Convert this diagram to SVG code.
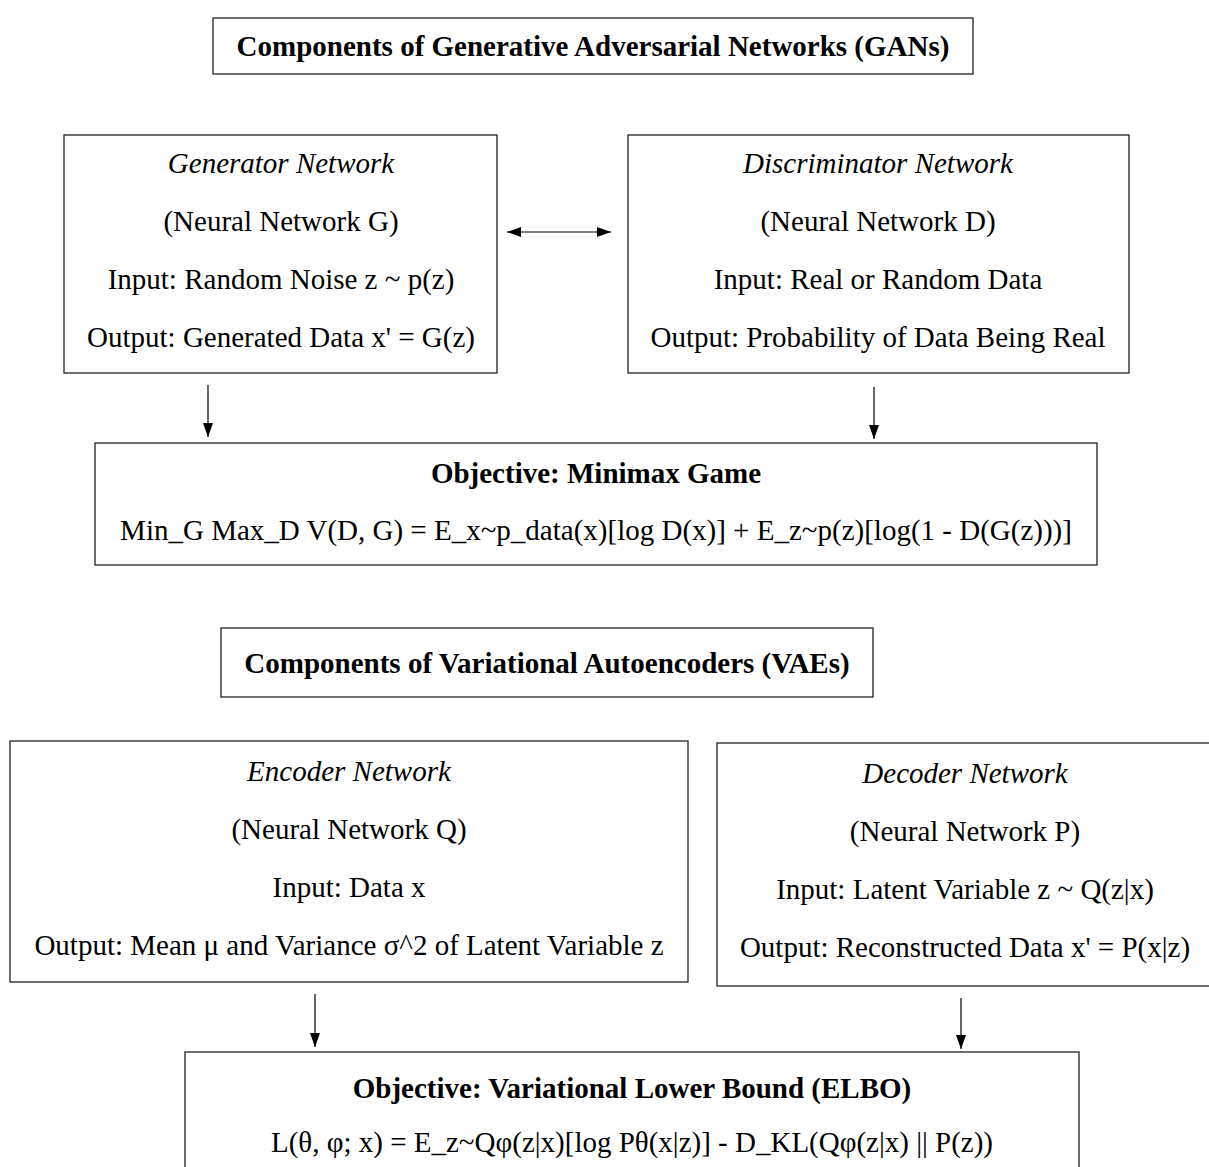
<svg xmlns="http://www.w3.org/2000/svg" width="1209" height="1167" viewBox="0 0 1209 1167">
<defs>
<style>
.box{fill:#fff;stroke:#222;stroke-width:1.3}
text{font-family:"Liberation Serif","Times New Roman",serif;font-size:29px;fill:#000;text-anchor:middle}
.b{font-weight:bold}
.i{font-style:italic}
.c{stroke:#000;stroke-width:1.2;fill:none}
</style>
<marker id="ahd" viewBox="0 0 14 10" refX="14" refY="5" markerWidth="14" markerHeight="11" markerUnits="userSpaceOnUse" orient="auto-start-reverse">
<path d="M0,0 L14,5 L0,10 z" fill="#000"/>
</marker>
</defs>
<rect width="1209" height="1167" fill="#fff"/>
<g id="gan-title">
<rect class="box" x="213" y="18" width="760" height="56"/>
<text class="b" x="593" y="56">Components of Generative Adversarial Networks (GANs)</text>
</g>
<g id="generator">
<rect class="box" x="64" y="135" width="433" height="238"/>
<text class="i" x="281" y="173">Generator Network</text>
<text x="281" y="231">(Neural Network G)</text>
<text x="281" y="289">Input: Random Noise z ~ p(z)</text>
<text x="281" y="347">Output: Generated Data x' = G(z)</text>
</g>
<g id="discriminator">
<rect class="box" x="628" y="135" width="501" height="238"/>
<text class="i" x="878" y="173">Discriminator Network</text>
<text x="878" y="231">(Neural Network D)</text>
<text x="878" y="289">Input: Real or Random Data</text>
<text x="878" y="347">Output: Probability of Data Being Real</text>
</g>
<g id="gan-objective">
<rect class="box" x="95" y="443" width="1002" height="122"/>
<text class="b" x="596" y="483">Objective: Minimax Game</text>
<text x="596" y="540">Min_G Max_D V(D, G) = E_x~p_data(x)[log D(x)] + E_z~p(z)[log(1 - D(G(z)))]</text>
</g>
<g id="vae-title">
<rect class="box" x="221" y="628" width="652" height="69"/>
<text class="b" x="547" y="673">Components of Variational Autoencoders (VAEs)</text>
</g>
<g id="encoder">
<rect class="box" x="10" y="741" width="678" height="241"/>
<text class="i" x="349" y="781">Encoder Network</text>
<text x="349" y="839">(Neural Network Q)</text>
<text x="349" y="897">Input: Data x</text>
<text x="349" y="955">Output: Mean μ and Variance σ^2 of Latent Variable z</text>
</g>
<g id="decoder">
<rect class="box" x="717" y="743" width="500" height="243"/>
<text class="i" x="965" y="783">Decoder Network</text>
<text x="965" y="841">(Neural Network P)</text>
<text x="965" y="899">Input: Latent Variable z ~ Q(z|x)</text>
<text x="965" y="957">Output: Reconstructed Data x' = P(x|z)</text>
</g>
<g id="vae-objective">
<rect class="box" x="185" y="1052" width="894" height="125"/>
<text class="b" x="632" y="1098">Objective: Variational Lower Bound (ELBO)</text>
<text x="632" y="1152">L(θ, φ; x) = E_z~Qφ(z|x)[log Pθ(x|z)] - D_KL(Qφ(z|x) || P(z))</text>
</g>
<g id="connectors">
<line class="c" x1="507" y1="232" x2="611" y2="232" marker-start="url(#ahd)" marker-end="url(#ahd)"/>
<line class="c" x1="208" y1="385" x2="208" y2="437" marker-end="url(#ahd)"/>
<line class="c" x1="874" y1="387" x2="874" y2="439" marker-end="url(#ahd)"/>
<line class="c" x1="315" y1="994" x2="315" y2="1047" marker-end="url(#ahd)"/>
<line class="c" x1="961" y1="998" x2="961" y2="1049" marker-end="url(#ahd)"/>
</g>
</svg>
